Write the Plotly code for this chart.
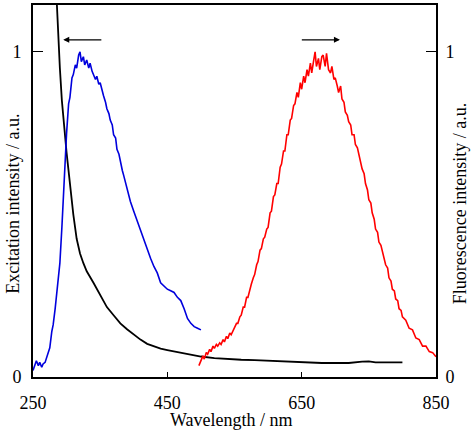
import plotly.graph_objects as go

# Excitation spectrum (blue)
exc_wl = [250, 255, 258, 260, 263, 265, 268, 270, 273, 275, 278, 280, 283, 285, 288, 290, 293, 295, 298, 300,
          303, 305, 308, 310, 313, 315, 318, 320, 322, 325, 327, 330, 333, 335, 338, 340, 343, 345, 348, 350,
          353, 355, 358, 360, 363, 365, 368, 370, 373, 375, 378, 380, 383, 385, 388, 390, 395, 400, 405, 410,
          415, 420, 425, 430, 435, 440, 445, 450, 455, 460, 465, 470, 475, 480, 485, 490, 495, 500]
exc_val = [0.02, 0.05, 0.035, 0.045, 0.03, 0.04, 0.045, 0.06, 0.075, 0.09, 0.14, 0.16, 0.21, 0.25, 0.31, 0.35, 0.46, 0.55, 0.67, 0.75,
           0.84, 0.86, 0.92, 0.93, 0.96, 0.95, 0.99, 1.0, 0.97, 0.985, 0.96, 0.975, 0.95, 0.965, 0.94, 0.93, 0.915, 0.925, 0.90, 0.905,
           0.875, 0.865, 0.845, 0.825, 0.81, 0.79, 0.775, 0.745, 0.735, 0.70, 0.685, 0.66, 0.635, 0.62, 0.595, 0.58, 0.54, 0.51, 0.48, 0.45,
           0.42, 0.39, 0.365, 0.34, 0.32, 0.29, 0.28, 0.27, 0.265, 0.26, 0.245, 0.235, 0.21, 0.18, 0.165, 0.155, 0.15, 0.145]

# Black curve
blk_wl = [280, 285, 290, 293, 300, 305, 310, 315, 320, 325, 330, 340, 350, 360, 370, 380, 390, 400, 410, 420,
          430, 440, 450, 460, 470, 480, 490, 500, 520, 540, 560, 580, 600, 620, 640, 660, 680, 700, 720, 740,
          750, 760, 780, 800]
blk_val = [1.5, 1.17, 0.95, 0.85, 0.69, 0.59, 0.50, 0.425, 0.38, 0.35, 0.325, 0.29, 0.25, 0.215, 0.19, 0.165, 0.147, 0.13, 0.115, 0.102,
           0.094, 0.087, 0.083, 0.079, 0.076, 0.073, 0.068, 0.063, 0.058, 0.055, 0.053, 0.052, 0.050, 0.048, 0.045, 0.043, 0.043, 0.043, 0.043, 0.047,
           0.048, 0.045, 0.045, 0.045]

# Fluorescence spectrum (red)
flu_wl = [497, 500, 503, 505, 508, 510, 513, 515, 518, 520, 523, 525, 528, 530, 533, 535, 538, 540, 543, 545,
          548, 550, 553, 555, 558, 560, 563, 565, 568, 570, 573, 575, 578, 580, 583, 585, 588, 590, 593, 595,
          598, 600, 603, 605, 608, 610, 613, 615, 618, 620, 623, 625, 628, 630, 633, 635, 638, 640, 643, 645,
          648, 650, 653, 655, 658, 660, 663, 665, 668, 670, 672, 675, 677, 680, 682, 685, 687, 690, 693, 695,
          698, 700, 703, 705, 708, 710, 713, 715, 718, 720, 723, 725, 728, 730, 733, 735, 738, 740, 743, 745,
          748, 750, 753, 755, 758, 760, 763, 765, 768, 770, 773, 775, 778, 780, 783, 785, 788, 790, 793, 795,
          798, 800, 805, 810, 815, 820, 825, 830, 835, 840, 845, 850]
flu_val = [0.035, 0.05, 0.065, 0.055, 0.075, 0.07, 0.085, 0.078, 0.095, 0.088, 0.1, 0.095, 0.105, 0.1, 0.115, 0.108, 0.125, 0.118, 0.135, 0.13,
           0.145, 0.15, 0.165, 0.165, 0.185, 0.19, 0.215, 0.215, 0.245, 0.245, 0.275, 0.285, 0.305, 0.315, 0.345, 0.355, 0.39, 0.395, 0.425, 0.43,
           0.455, 0.46, 0.505, 0.51, 0.555, 0.56, 0.595, 0.595, 0.645, 0.655, 0.695, 0.695, 0.745, 0.745, 0.79, 0.795, 0.835, 0.84, 0.875, 0.86,
           0.905, 0.885, 0.925, 0.905, 0.945, 0.925, 0.965, 0.935, 0.975, 1.0, 0.955, 0.98, 0.945, 0.985, 0.99, 0.955, 0.995, 0.945, 0.935, 0.955,
           0.915, 0.92, 0.895, 0.875, 0.895, 0.855, 0.845, 0.815, 0.805, 0.785, 0.775, 0.745, 0.745, 0.715, 0.705, 0.685, 0.665, 0.64, 0.625, 0.595,
           0.575, 0.545, 0.535, 0.505, 0.485, 0.455, 0.445, 0.415, 0.405, 0.385, 0.365, 0.345, 0.335, 0.305, 0.295, 0.27, 0.265, 0.24, 0.235, 0.21,
           0.205, 0.185, 0.175, 0.15, 0.145, 0.12, 0.115, 0.095, 0.095, 0.078, 0.075, 0.062]

x_ticks = [250, 450, 650, 850]
y_ticks = [0, 1]
y_range = [0, 1.144]

FONT = "Liberation Serif"

fig = go.Figure()
fig.add_trace(go.Scatter(x=blk_wl, y=blk_val, mode="lines", line=dict(color="black", width=1.8), showlegend=False))
fig.add_trace(go.Scatter(x=exc_wl, y=exc_val, mode="lines", line=dict(color="#0000dd", width=1.6), showlegend=False))
fig.add_trace(go.Scatter(x=flu_wl, y=flu_val, mode="lines", line=dict(color="#ff0000", width=1.6), showlegend=False, yaxis="y2"))

axis_common = dict(showgrid=False, zeroline=False, showline=True, linecolor="black", linewidth=2,
                   ticks="inside", tickcolor="black", tickfont=dict(family=FONT, size=18, color="black"))

fig.update_layout(
    width=474, height=433,
    margin=dict(l=33, r=38, t=3, b=56),
    paper_bgcolor="white", plot_bgcolor="white",
    font=dict(family=FONT, size=18, color="black"),
    xaxis=dict(range=[250, 850], tickvals=x_ticks, ticktext=[str(v) for v in x_ticks], ticklen=5, tickwidth=1,
               mirror=True, ticklabelstandoff=8, **axis_common),
    yaxis=dict(range=y_range, tickvals=y_ticks, ticktext=["0", "1"], ticklen=10, tickwidth=1,
               ticklabelstandoff=6, **axis_common),
    yaxis2=dict(range=y_range, tickvals=y_ticks, ticktext=["0", "1"], ticklen=10, tickwidth=1,
                overlaying="y", side="right", ticklabelstandoff=4, **axis_common),
    annotations=[
        dict(text="Excitation intensity / a.u.", xref="paper", yref="paper", x=-0.05, y=0.465,
             xanchor="center", yanchor="middle", textangle=-90, showarrow=False,
             font=dict(family=FONT, size=18, color="black")),
        dict(text="Fluorescence intensity / a.u.", xref="paper", yref="paper", x=1.06, y=0.465,
             xanchor="center", yanchor="middle", textangle=-90, showarrow=False,
             font=dict(family=FONT, size=18, color="black")),
        dict(text="Wavelength / nm", xref="paper", yref="paper", x=0.493, y=-0.115,
             xanchor="center", yanchor="middle", showarrow=False,
             font=dict(family=FONT, size=18, color="black")),
        dict(x=295, y=1.037, ax=354, ay=1.037, xref="x", yref="y", axref="x", ayref="y", text="",
             showarrow=True, arrowhead=2, arrowsize=1, arrowwidth=1.2, arrowcolor="black"),
        dict(x=707, y=1.037, ax=648, ay=1.037, xref="x", yref="y", axref="x", ayref="y", text="",
             showarrow=True, arrowhead=2, arrowsize=1, arrowwidth=1.2, arrowcolor="black"),
    ],
)

fig.write_html("out.html")
